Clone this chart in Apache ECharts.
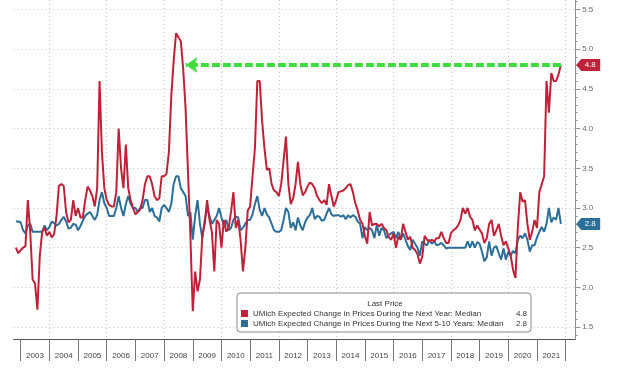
<!DOCTYPE html>
<html><head><meta charset="utf-8">
<script src="https://cdn.jsdelivr.net/npm/echarts@6/dist/echarts.min.js"></script>
<style>html,body{margin:0;padding:0;background:#fff}#chart{width:640px;height:369px}</style>
</head><body><div id="chart"></div>
<script>
// ---- axis range (monthly categories, month-end points) ----
const axisStart = { year: 2002, month: 9 };
const axisEnd = { year: 2022, month: 4 };
const dataStartCategory = '2002-10';
const arrowTargetCategory = '2008-09';

const seriesNames = [
  'UMich Expected Change in Prices During the Next Year: Median',
  'UMich Expected Change in Prices During the Next 5-10 Years: Median'
];
const seriesColors = ['#bf2139', '#2b6e98'];

// ---- values, Oct 2002 .. Oct 2021 ----
const nextYear = [
  2.5, 2.43, 2.47,
  2.5, 2.52, 3.1, 2.7, 2.1, 2.05, 1.72, 2.4, 2.7, 2.75, 2.65, 2.7,
  2.63, 2.67, 2.9, 3.28, 3.3, 3.28, 2.95, 2.82, 2.85, 3.1, 2.9, 3.0,
  2.88, 2.88, 3.1, 3.27, 3.22, 3.15, 3.02, 3.25, 4.6, 3.7, 3.25, 3.1,
  3.04, 3.02, 3.02, 3.2, 4.0, 3.5, 3.25, 3.8, 3.25, 3.1, 3.0, 2.92,
  2.95, 2.98, 3.1, 3.3, 3.4, 3.4, 3.3, 3.15, 3.1, 3.12, 3.4, 3.4,
  3.43, 3.7, 4.4, 4.85, 5.2, 5.15, 5.1, 4.75, 4.25, 3.45, 2.65, 1.7,
  2.2, 1.95, 2.1, 2.65, 2.8, 3.1, 2.85, 2.7, 2.2, 2.85, 2.8, 2.5,
  2.85, 2.7, 2.75, 2.95, 3.2, 2.75, 2.85, 2.6, 2.2, 2.5, 2.97, 3.02,
  3.4, 3.75, 4.6, 4.6, 4.1, 3.75, 3.48, 3.5, 3.3, 3.22, 3.2, 3.15,
  3.3, 3.6, 3.9, 3.3, 3.05, 3.12, 3.3, 3.58, 3.3, 3.16, 3.2, 3.27,
  3.32, 3.3, 3.25, 3.15, 3.1, 3.06, 3.1, 3.04, 3.3, 3.15, 3.02, 3.1,
  3.2, 3.21, 3.22, 3.25, 3.29, 3.3, 3.2, 3.06, 2.97, 2.85, 2.8, 2.65,
  2.55, 2.95, 2.78, 2.8, 2.8, 2.77, 2.8, 2.75, 2.72, 2.63, 2.6, 2.68,
  2.5, 2.64, 2.6, 2.8, 2.7, 2.6, 2.64, 2.5, 2.47, 2.42, 2.3, 2.38,
  2.65, 2.6, 2.58, 2.6, 2.58, 2.62, 2.62, 2.7, 2.62, 2.56, 2.56, 2.68,
  2.72, 2.74, 2.78, 2.85, 3.0, 2.93, 3.0, 2.89, 2.85, 2.72, 2.78, 2.73,
  2.68, 2.56, 2.62, 2.8, 2.85, 2.65, 2.72, 2.8, 2.65, 2.53, 2.58, 2.49,
  2.4, 2.22, 2.12, 2.76, 3.2, 3.08, 3.1, 2.8, 2.6, 2.7, 2.85, 2.75,
  3.2, 3.3, 3.4, 4.6, 4.2, 4.7, 4.6, 4.6, 4.68, 4.8
];
const next5to10Years = [
  2.83, 2.83, 2.82,
  2.72, 2.68, 2.78, 2.8, 2.7, 2.7, 2.7, 2.7, 2.7, 2.78, 2.72, 2.76,
  2.83, 2.81, 2.78, 2.8, 2.85, 2.89, 2.83, 2.74, 2.75, 2.8, 2.79, 2.72,
  2.77, 2.84, 2.9, 2.93, 2.95, 2.9, 2.85, 2.91, 3.1, 3.2, 3.06, 3.0,
  2.9, 2.9, 2.9, 3.0, 3.15, 3.0, 2.9, 3.05, 3.15, 3.05, 3.0, 3.0,
  2.95, 3.0, 3.0, 3.1, 3.1, 2.95, 3.0, 2.9, 2.88, 2.83, 3.0, 3.04,
  3.0, 2.95, 3.05, 3.3, 3.4, 3.4, 3.25, 3.2, 3.15, 2.9, 2.95, 2.6,
  2.9, 3.1, 2.8, 2.62, 2.85, 3.0, 2.9, 2.8, 2.85, 2.9, 3.0, 2.88,
  2.78, 2.85, 2.72, 2.75, 2.85, 2.89, 2.88, 2.72, 2.75, 2.8, 2.85, 2.85,
  2.92, 3.05, 3.15, 2.98, 2.9, 3.0, 2.92, 2.88, 2.8, 2.72, 2.7, 2.7,
  2.72, 2.85, 3.0, 2.95, 2.75, 2.82, 2.72, 2.88, 2.78, 2.72, 2.82, 2.88,
  2.91, 3.0, 2.86, 2.9, 2.89, 2.84, 2.85, 2.93, 3.0, 2.92, 2.9, 2.91,
  2.91, 2.89, 2.91, 2.86, 2.91, 2.88, 2.91, 2.89, 2.83, 2.8, 2.62, 2.76,
  2.72, 2.75, 2.72, 2.62, 2.79, 2.65, 2.75, 2.72, 2.62, 2.66, 2.68, 2.7,
  2.62, 2.7, 2.6, 2.68, 2.6, 2.52, 2.47, 2.6, 2.55, 2.5, 2.4, 2.58,
  2.55, 2.53, 2.6, 2.55, 2.58, 2.53, 2.54, 2.56, 2.53, 2.49, 2.5, 2.5,
  2.5, 2.5, 2.5, 2.5, 2.5, 2.5, 2.58, 2.5, 2.58, 2.5, 2.57, 2.55,
  2.45, 2.33, 2.38, 2.58, 2.4, 2.5, 2.52, 2.43, 2.35, 2.49, 2.35, 2.45,
  2.4, 2.46, 2.43, 2.6, 2.65, 2.62, 2.68, 2.6, 2.45, 2.53, 2.53, 2.63,
  2.7, 2.76, 2.7, 2.8, 3.0, 2.82, 2.88, 2.85, 3.0, 2.8
];

// ---- y axis ticks ----
const yTickValues = [1.5, 2.0, 2.5, 3.0, 3.5, 4.0, 4.5, 5.0, 5.5];
const yMin = 1.35, yMax = 5.62;

// build month categories
const months = [];
{
  let y = axisStart.year, m = axisStart.month;
  while (y < axisEnd.year || (y === axisEnd.year && m <= axisEnd.month)) {
    months.push(y + '-' + String(m).padStart(2, '0'));
    m++; if (m > 12) { m = 1; y++; }
  }
}
const offset = months.indexOf(dataStartCategory);
function align(arr) {
  return months.map((c, i) => {
    const k = i - offset;
    return (k >= 0 && k < arr.length) ? arr[k] : null;
  });
}
const lastIdx = offset + nextYear.length - 1;
const lastCat = months[lastIdx];
const edgeCat = months[months.length - 1];
const lastVals = [nextYear[nextYear.length - 1], next5to10Years[next5to10Years.length - 1]];

const minorTicks = [];
for (let t = 14; t <= 56; t++) minorTicks.push(t / 10);

const FONT = 'Liberation Sans';
const tagPath = 'path://M0,6 L5,0 L24,0 L24,12 L5,12 Z';

function tag(i) {
  return {
    silent: true,
    symbol: tagPath,
    symbolSize: [24, 12],
    symbolKeepAspect: false,
    symbolOffset: [13, 0],
    itemStyle: { color: seriesColors[i] },
    label: { show: true, position: 'inside', color: '#fff', fontSize: 8, fontFamily: FONT,
             offset: [2, 0], formatter: p => Number(p.value).toFixed(1) },
    data: [{ coord: [edgeCat, lastVals[i]], value: lastVals[i] }]
  };
}

const chart = echarts.init(document.getElementById('chart'), null, { renderer: 'canvas' });
chart.setOption({
  animation: false,
  backgroundColor: '#fff',
  textStyle: { fontFamily: FONT },
  grid: { left: 13.5, right: 64.8, top: 0, bottom: 30, containLabel: false },
  xAxis: {
    type: 'category',
    data: months,
    boundaryGap: false,
    axisLine: { show: true, lineStyle: { color: '#555', width: 1 } },
    axisTick: { show: true, length: 22, lineStyle: { color: '#777' },
                interval: (i, v) => v.slice(5) === '12' },
    axisLabel: { show: true, fontSize: 8, color: '#444', margin: 13, fontFamily: FONT,
                 interval: (i, v) => v.slice(5) === '06',
                 formatter: v => v.slice(0, 4) },
    splitLine: { show: true, lineStyle: { color: '#c4c4c4', type: [1, 3] },
                 interval: (i, v) => v.slice(5) === '12' && (+v.slice(0, 4)) % 2 === 1 }
  },
  yAxis: [
    {
      type: 'value', position: 'right', min: yMin, max: yMax,
      axisLine: { show: true, lineStyle: { color: '#8c8c8c' } },
      axisTick: { show: true, length: 5, customValues: yTickValues, lineStyle: { color: '#8c8c8c' } },
      axisLabel: { show: true, customValues: yTickValues, fontSize: 8, color: '#6a6a6a', margin: 7,
                   fontFamily: FONT, formatter: v => v.toFixed(1) },
      splitLine: { show: true, lineStyle: { color: '#c4c4c4', type: [1, 3] } }
    },
    {
      type: 'value', position: 'right', min: yMin, max: yMax,
      axisLine: { show: false },
      axisTick: { show: true, length: 2.5, customValues: minorTicks, lineStyle: { color: '#9a9a9a' } },
      axisLabel: { show: false },
      splitLine: { show: false }
    }
  ],
  legend: {
    orient: 'vertical', left: 237, top: 293,
    padding: [16, 4, 4, 4],
    itemWidth: 7, itemHeight: 7, itemGap: 1,
    icon: 'rect', selectedMode: false,
    backgroundColor: '#fff', borderColor: '#8a8a8a', borderWidth: 1, borderRadius: 3,
    data: seriesNames,
    formatter: name => {
      const i = seriesNames.indexOf(name);
      return '{n|' + name + '}{v|' + lastVals[i].toFixed(1) + '}';
    },
    textStyle: {
      fontSize: 8, color: '#333', lineHeight: 9, fontFamily: FONT,
      rich: {
        n: { width: 262, fontSize: 8, lineHeight: 9, color: '#333', fontFamily: FONT },
        v: { width: 12, align: 'right', fontSize: 8, lineHeight: 9, color: '#333', fontFamily: FONT }
      }
    }
  },
  graphic: [{
    type: 'text', x: 385, y: 304, z: 100,
    style: { text: 'Last Price', align: 'center', verticalAlign: 'middle',
             fontSize: 8, fill: '#333', fontFamily: FONT }
  }],
  series: [
    {
      name: seriesNames[1], type: 'line', data: align(next5to10Years),
      showSymbol: false, symbol: 'none', z: 2,
      lineStyle: { color: seriesColors[1], width: 2 },
      itemStyle: { color: seriesColors[1] },
      markPoint: tag(1)
    },
    {
      name: seriesNames[0], type: 'line', data: align(nextYear),
      showSymbol: false, symbol: 'none', z: 3,
      lineStyle: { color: seriesColors[0], width: 2 },
      itemStyle: { color: seriesColors[0] },
      markPoint: tag(0),
      markLine: {
        silent: true,
        symbol: ['none', 'arrow'],
        symbolSize: [12, 12],
        label: { show: false },
        lineStyle: { color: '#3fdc3f', width: 4, type: [8, 3], opacity: 1 },
        data: [[{ coord: [lastCat, lastVals[0]] }, { coord: [arrowTargetCategory, lastVals[0]] }]]
      }
    }
  ]
});
</script>
</body></html>
